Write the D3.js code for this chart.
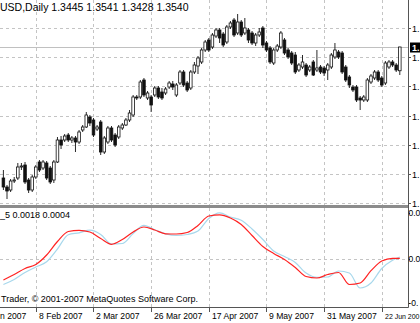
<!DOCTYPE html>
<html><head><meta charset="utf-8">
<script src="https://cdn.jsdelivr.net/npm/d3@7"></script>
<style>body{margin:0;background:#fff;overflow:hidden}svg{display:block}text{font-family:"Liberation Sans",Arial,sans-serif;font-size:9px}</style>
</head><body><svg id="c" width="420" height="323"></svg>
<script>
// ---- data (EURUSD Daily, bar 0 = 26 Jan 2007 ... bar 110 = 29 Jun 2007) ----
const opens=[1.3016,1.2980,1.2968,1.3004,1.3016,1.3060,1.3068,1.3008,1.2968,1.3020,
1.3080,1.3056,1.3076,1.3056,1.3008,1.3080,1.3168,1.3168,1.3188,1.3168,
1.3176,1.3160,1.3208,1.3220,1.3260,1.3248,1.3212,1.3240,1.3120,1.3160,
1.3216,1.3188,1.3180,1.3216,1.3228,1.3248,1.3268,1.3340,1.3340,1.3408,
1.3336,1.3340,1.3348,1.3376,1.3360,1.3356,1.3380,1.3392,1.3348,1.3396,
1.3440,1.3396,1.3376,1.3440,1.3464,1.3480,1.3528,1.3568,1.3540,1.3584,
1.3608,1.3592,1.3560,1.3620,1.3648,1.3596,1.3640,1.3596,1.3608,1.3596,
1.3556,1.3588,1.3616,1.3556,1.3536,1.3476,1.3528,1.3540,1.3568,1.3528,
1.3516,1.3508,1.3448,1.3460,1.3468,1.3448,1.3480,1.3448,1.3460,1.3456,
1.3448,1.3460,1.3500,1.3520,1.3516,1.3460,1.3420,1.3380,1.3380,1.3336,
1.3328,1.3328,1.3400,1.3416,1.3440,1.3416,1.3396,1.3460,1.3480,1.3468,
1.3445];
const highs=[1.3048,1.2988,1.3012,1.3020,1.3076,1.3076,1.3080,1.3016,1.3028,1.3068,
1.3088,1.3088,1.3084,1.3064,1.3088,1.3180,1.3184,1.3192,1.3196,1.3184,
1.3184,1.3208,1.3228,1.3280,1.3268,1.3256,1.3228,1.3248,1.3184,1.3224,
1.3224,1.3196,1.3228,1.3236,1.3256,1.3288,1.3348,1.3348,1.3408,1.3416,
1.3364,1.3348,1.3384,1.3384,1.3376,1.3380,1.3404,1.3404,1.3396,1.3448,
1.3448,1.3404,1.3448,1.3480,1.3504,1.3536,1.3568,1.3576,1.3596,1.3616,
1.3616,1.3600,1.3628,1.3644,1.3656,1.3672,1.3648,1.3656,1.3616,1.3604,
1.3596,1.3616,1.3624,1.3564,1.3544,1.3536,1.3552,1.3604,1.3576,1.3536,
1.3524,1.3520,1.3476,1.3508,1.3476,1.3468,1.3488,1.3528,1.3468,1.3464,
1.3476,1.3516,1.3556,1.3528,1.3524,1.3468,1.3428,1.3388,1.3388,1.3344,
1.3348,1.3416,1.3432,1.3448,1.3448,1.3424,1.3484,1.3488,1.3488,1.3476,
1.3541];
const lows=[1.2968,1.2932,1.2960,1.2996,1.3008,1.3048,1.2992,1.2956,1.2960,1.3012,
1.3040,1.3048,1.3008,1.2992,1.2996,1.3076,1.3132,1.3160,1.3160,1.3156,
1.3120,1.3152,1.3200,1.3216,1.3224,1.3180,1.3204,1.3108,1.3112,1.3152,
1.3160,1.3140,1.3172,1.3208,1.3224,1.3240,1.3260,1.3328,1.3332,1.3340,
1.3328,1.3280,1.3340,1.3332,1.3328,1.3348,1.3372,1.3368,1.3340,1.3388,
1.3380,1.3360,1.3368,1.3432,1.3432,1.3472,1.3520,1.3520,1.3532,1.3576,
1.3556,1.3540,1.3552,1.3612,1.3580,1.3588,1.3580,1.3588,1.3556,1.3548,
1.3544,1.3580,1.3536,1.3520,1.3472,1.3468,1.3520,1.3532,1.3508,1.3492,
1.3468,1.3432,1.3440,1.3452,1.3420,1.3440,1.3424,1.3440,1.3432,1.3424,
1.3408,1.3452,1.3492,1.3492,1.3432,1.3400,1.3376,1.3360,1.3320,1.3288,
1.3320,1.3320,1.3392,1.3408,1.3400,1.3380,1.3388,1.3452,1.3460,1.3440,
1.3428];
const closes=[1.2980,1.2964,1.3004,1.3008,1.3060,1.3064,1.3000,1.2968,1.3020,1.3060,
1.3048,1.3080,1.3016,1.3000,1.3080,1.3168,1.3148,1.3184,1.3168,1.3176,
1.3160,1.3200,1.3220,1.3268,1.3236,1.3188,1.3220,1.3120,1.3176,1.3216,
1.3168,1.3148,1.3220,1.3228,1.3248,1.3276,1.3340,1.3336,1.3400,1.3348,
1.3356,1.3308,1.3376,1.3340,1.3336,1.3372,1.3396,1.3380,1.3388,1.3440,
1.3388,1.3368,1.3440,1.3468,1.3496,1.3528,1.3560,1.3528,1.3588,1.3608,
1.3576,1.3548,1.3620,1.3636,1.3588,1.3640,1.3588,1.3616,1.3568,1.3556,
1.3588,1.3600,1.3548,1.3528,1.3480,1.3528,1.3544,1.3596,1.3516,1.3500,
1.3476,1.3440,1.3468,1.3480,1.3428,1.3460,1.3428,1.3456,1.3440,1.3436,
1.3468,1.3508,1.3528,1.3500,1.3440,1.3408,1.3388,1.3368,1.3328,1.3328,
1.3340,1.3408,1.3424,1.3440,1.3408,1.3388,1.3476,1.3480,1.3468,1.3448,
1.3540];
// indicator sub-window, sampled every 3 bars
const indBars=[0,3,6,9,12,15,18,21,24,27,30,33,36,39,42,45,48,51,54,57,60,63,66,69,72,75,78,81,84,87,90,93,96,99,102,105,108,110];
const redLine=[-0.0021,-0.00155,-0.00095,-0.00055,0.0004,0.00175,0.00275,0.00287,0.0027,0.00205,0.00147,0.00195,0.0027,0.0032,0.0029,0.00252,0.0025,0.00265,0.00335,0.0043,0.00442,0.0041,0.00345,0.00235,0.00125,0.00055,-0.00005,-0.00085,-0.00175,-0.0019,-0.00155,-0.00135,-0.00255,-0.0024,-0.00117,-0.0002,0.00007,0.00007];
const blueLine=[-0.00255,-0.00205,-0.00135,-0.0008,-0.00027,0.001,0.00243,0.00262,0.00288,0.00245,0.0015,0.00155,0.00255,0.00337,0.00292,0.00252,0.00235,0.00245,0.0028,0.00405,0.00462,0.0042,0.00388,0.003,0.00195,0.0008,0.00025,-0.00035,-0.0014,-0.00183,-0.0018,-0.0012,-0.0014,-0.0029,-0.0024,-0.00095,-0.00013,0.0002];
// visible (cropped) text as it appears in the picture
const timeTickBars=[-7,9,25,41,57,73,89,105];
const timeTickLabels=["n 2007","8 Feb 2007","2 Mar 2007","26 Mar 2007","17 Apr 2007","9 May 2007","31 May 2007","22 Jun 200"];
const priceTicks=[1.3617,1.3500,1.3383,1.3266,1.3149,1.3032,1.2915];
const priceTickLabels=["1.","1.","1.","1.","1.","1.","1."];
const indTicks=[0.0046,0.0000,-0.0044];
const indTickLabels=["0.0","0.0","-0."];
const lastPrice=1.3540;
const lastPriceLabel="1.";
const titleText="USD,Daily  1.3445 1.3541 1.3428 1.3540";
const indTitle="_5 0.0018 0.0004";
const copyright="Trader, © 2001-2007 MetaQuotes Software Corp.";

// ---- layout ----
const axisX=408, mainBottom=205, subTop=208, subBottom=307;
const x=d3.scaleLinear().domain([0,110]).range([3.4,399.8]);
const y=d3.scaleLinear().domain([1.2720,1.3728]).range([252,0]);
const y2=d3.scaleLinear().domain([-0.0048,0.0049]).range([subBottom,210]);

const svg=d3.select("#c");
const defs=svg.append("defs");
defs.append("clipPath").attr("id","cm").append("rect").attr("x",0).attr("y",0).attr("width",axisX).attr("height",mainBottom);
defs.append("clipPath").attr("id","cs").append("rect").attr("x",0).attr("y",subTop).attr("width",axisX).attr("height",subBottom-subTop);

const grid="#c4c4c4";
timeTickBars.forEach(b=>{
  const xx=Math.round(x(b))+0.5;
  if(xx<0) return;
  svg.append("line").attr("x1",xx).attr("x2",xx).attr("y1",0).attr("y2",mainBottom).attr("stroke",grid).attr("stroke-dasharray","3,3");
  svg.append("line").attr("x1",xx).attr("x2",xx).attr("y1",subTop).attr("y2",subBottom).attr("stroke",grid).attr("stroke-dasharray","3,3");
});
priceTicks.forEach(p=>{
  const yy=Math.round(y(p))+0.5;
  svg.append("line").attr("x1",0).attr("x2",axisX).attr("y1",yy).attr("y2",yy).attr("stroke",grid).attr("stroke-dasharray","3,3");
});
const yz=Math.round(y2(0))+0.5;
svg.append("line").attr("x1",0).attr("x2",axisX).attr("y1",yz).attr("y2",yz).attr("stroke",grid).attr("stroke-dasharray","3,3");

// last price line
const yl=Math.round(y(lastPrice))+0.5;
svg.append("line").attr("x1",0).attr("x2",axisX).attr("y1",yl).attr("y2",yl).attr("stroke","#c0c0c0");

// candles
const gC=svg.append("g").attr("clip-path","url(#cm)");
const bars=d3.range(opens.length).map(i=>({i,o:opens[i],h:highs[i],l:lows[i],c:closes[i]}));
const bw=2.6;
gC.selectAll("line.w").data(bars).join("line").attr("class","w")
  .attr("x1",d=>x(d.i)).attr("x2",d=>x(d.i)).attr("y1",d=>y(d.h)).attr("y2",d=>y(d.l))
  .attr("stroke","#111").attr("stroke-width",0.9);
gC.selectAll("rect.b").data(bars).join("rect").attr("class","b")
  .attr("x",d=>x(d.i)-bw/2).attr("width",bw)
  .attr("y",d=>y(Math.max(d.o,d.c))).attr("height",d=>Math.max(0.8,Math.abs(y(d.o)-y(d.c))))
  .attr("fill",d=>d.c>=d.o?"#fff":"#111").attr("stroke","#111").attr("stroke-width",0.8);

// indicator lines
const gS=svg.append("g").attr("clip-path","url(#cs)");
const ln=d3.line().x(d=>x(d[0])).y(d=>y2(d[1])).curve(d3.curveMonotoneX);
gS.append("path").attr("d",ln(indBars.map((b,k)=>[b,blueLine[k]]))).attr("fill","none").attr("stroke","#a8d8ec").attr("stroke-width",1.2);
gS.append("path").attr("d",ln(indBars.map((b,k)=>[b,redLine[k]]))).attr("fill","none").attr("stroke","#f22").attr("stroke-width",1.2);

// separator & frame
svg.append("rect").attr("x",0).attr("y",mainBottom).attr("width",axisX+1).attr("height",subTop-mainBottom).attr("fill","#8c8c8c");
svg.append("line").attr("x1",axisX+0.5).attr("x2",axisX+0.5).attr("y1",0).attr("y2",subBottom+0.5).attr("stroke","#555");
svg.append("line").attr("x1",0).attr("x2",axisX+0.5).attr("y1",subBottom+0.5).attr("y2",subBottom+0.5).attr("stroke","#555");

// right price axis
priceTicks.forEach((p,k)=>{
  const yy=Math.round(y(p))+0.5;
  svg.append("line").attr("x1",axisX).attr("x2",axisX+3).attr("y1",yy).attr("y2",yy).attr("stroke","#555");
  svg.append("text").attr("x",axisX+4).attr("y",yy).attr("dy","0.35em").text(priceTickLabels[k]);
});
svg.append("rect").attr("x",axisX+2).attr("y",yl-5).attr("width",12).attr("height",10).attr("fill","#000");
svg.append("text").attr("x",axisX+4).attr("y",yl).attr("dy","0.35em").attr("fill","#fff").attr("font-weight","bold").text(lastPriceLabel);
indTicks.forEach((v,k)=>{
  const yy=Math.round(y2(v))+0.5;
  svg.append("line").attr("x1",axisX).attr("x2",axisX+2).attr("y1",yy).attr("y2",yy).attr("stroke","#555");
  svg.append("text").attr("x",axisX+0.5).attr("y",yy).attr("dy","0.35em").style("font-size","8.5px").text(indTickLabels[k]);
});

// time axis
timeTickBars.forEach((b,k)=>{
  const xx=Math.round(x(b))+0.5;
  if(xx>0) svg.append("line").attr("x1",xx).attr("x2",xx).attr("y1",subBottom).attr("y2",subBottom+5).attr("stroke","#555");
  const t=svg.append("text").attr("x",xx>0?xx+2.5:0).attr("y",319).style("font-size","8.6px").text(timeTickLabels[k]);
  const w=t.node().getComputedTextLength();
  const room=419.5-(+t.attr("x"));
  if(w>room) t.style("font-size",(8.6*room/w).toFixed(2)+"px");
});

// titles
svg.append("text").attr("x",0).attr("y",11).style("font-size","10.5px").text(titleText);
svg.append("text").attr("x",0).attr("y",218).text(indTitle);
svg.append("text").attr("x",1).attr("y",302).text(copyright);
</script></body></html>
